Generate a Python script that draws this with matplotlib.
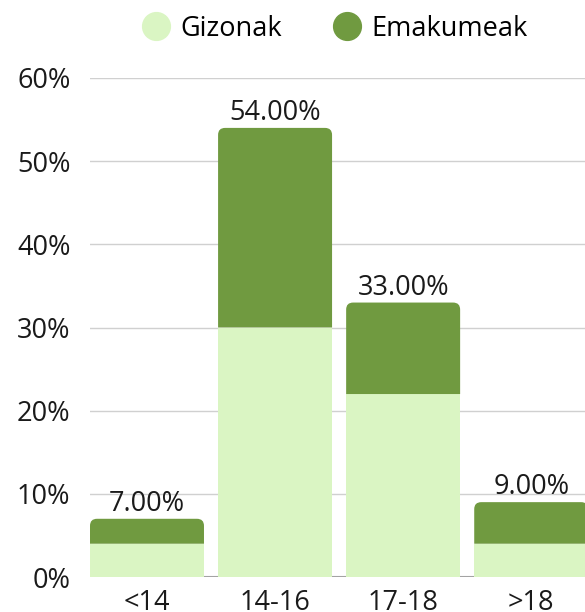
import numpy as np
import matplotlib
matplotlib.use("Agg")
import matplotlib.pyplot as plt
from matplotlib.path import Path
from matplotlib.patches import PathPatch
from matplotlib.lines import Line2D

categories = ["<14", "14-16", "17-18", ">18"]
gizonak = [4, 30, 22, 4]
emakumeak = [3, 24, 11, 5]
totals = [7, 54, 33, 9]
yticks = [0, 10, 20, 30, 40, 50, 60]

light = "#daf5c3"
dark = "#709a40"
fs = 19.5

plt.rcParams['font.family'] = ['Open Sans', 'DejaVu Sans']

fig = plt.figure(figsize=(5.85, 6.12), dpi=100)
ax = fig.add_axes([90/585, 35/612, 495/585, 499/612])

x = np.arange(len(categories))
w = 0.89
ax.bar(x, gizonak, w, color=light, zorder=2)

# top segment with rounded upper corners
rx, ry = 0.055, 0.84
for xi, b, h in zip(x, gizonak, emakumeak):
    l, r, t = xi - w/2, xi + w/2, b + h
    verts = [(l, b), (r, b), (r, t - ry), (r, t), (r - rx, t),
             (l + rx, t), (l, t), (l, t - ry), (l, b)]
    codes = [Path.MOVETO, Path.LINETO, Path.LINETO, Path.CURVE3, Path.CURVE3,
             Path.LINETO, Path.CURVE3, Path.CURVE3, Path.CLOSEPOLY]
    ax.add_patch(PathPatch(Path(verts, codes), facecolor=dark, edgecolor='none', zorder=2))

for xi, t in zip(x, totals):
    ax.text(xi, t + 0.1, f"{t:.2f}%", ha='center', va='bottom', fontsize=fs, color='#1a1a1a')

ax.set_xlim(-w/2, 3.42)
ax.set_ylim(0, 60)
ax.set_yticks(yticks)
ax.set_yticklabels([f"{v}%" for v in yticks])
ax.set_xticks(x)
ax.set_xticklabels(categories)
ax.tick_params(axis='both', length=0, labelsize=fs, colors='#1a1a1a')
ax.tick_params(axis='y', pad=14)
ax.tick_params(axis='x', pad=9)
ax.yaxis.grid(True, color='#d0d0d0', linewidth=1, zorder=0)
ax.axhline(0, color='#999999', linewidth=1.5, zorder=1)
for s in ax.spines.values():
    s.set_visible(False)

handles = [Line2D([], [], marker='o', linestyle='none', markersize=20, color=light),
           Line2D([], [], marker='o', linestyle='none', markersize=20, color=dark)]
fig.legend(handles, ["Gizonak", "Emakumeak"], loc='center', bbox_to_anchor=(0.566, 0.953),
           ncol=2, frameon=False, fontsize=fs, handletextpad=0.1, handlelength=1.6,
           columnspacing=1.6)

fig.savefig("out.png", dpi=100)
